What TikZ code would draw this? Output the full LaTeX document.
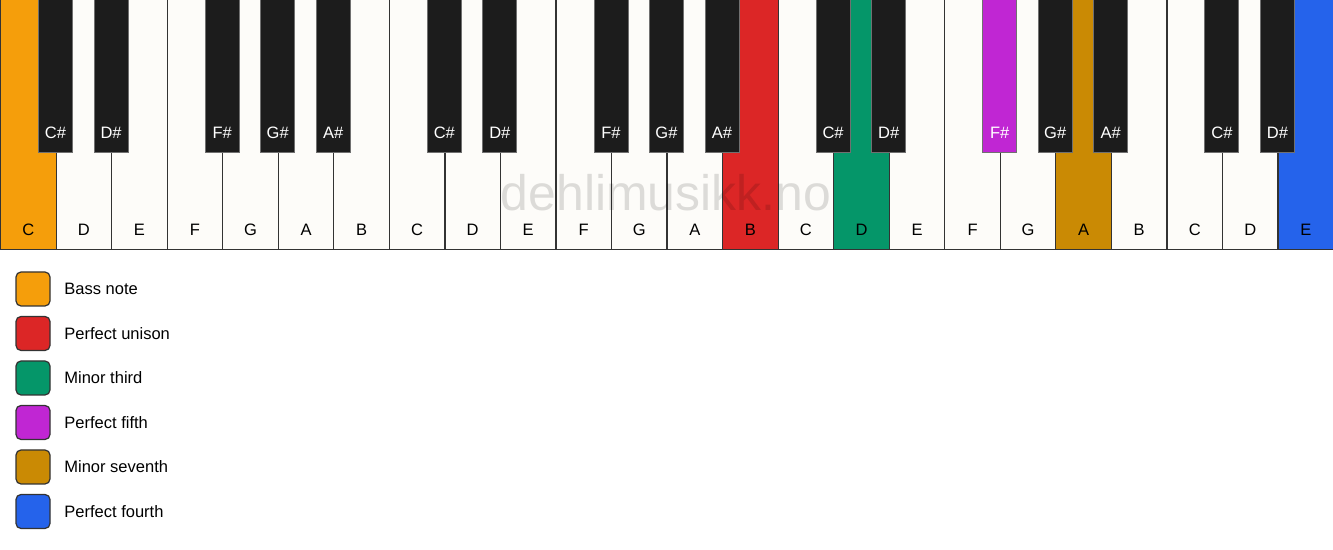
\documentclass[tikz,border=0pt]{standalone}
\usepackage{fontspec}
\setmainfont{Liberation Sans}
\usepackage{xcolor}
\definecolor{bassnote}{HTML}{F59E0B}
\definecolor{unison}{HTML}{DC2626}
\definecolor{minthird}{HTML}{059669}
\definecolor{perffifth}{HTML}{C026D3}
\definecolor{minseventh}{HTML}{CA8A04}
\definecolor{perffourth}{HTML}{2563EB}
\definecolor{ivory}{HTML}{FDFCF9}
\definecolor{ebony}{HTML}{1C1C1C}
\definecolor{keyline}{HTML}{333333}
\usetikzlibrary{calc,positioning}
\tikzset{
    every node/.style={font=\fontsize{9.4}{11}\selectfont},
    whitekey/.style={rectangle, draw=keyline, line width=0.7pt, minimum width=1.1108cm, minimum height=5cm, inner sep=0pt, anchor=south west},
    blackkey/.style={rectangle, draw=keyline!70, line width=0.5pt, minimum width=0.68cm, minimum height=3.06cm, inner sep=0pt, anchor=north},
    keyname/.style={inner sep=0pt},
    swatch/.style={rectangle, rounded corners=0.1cm, draw=keyline, line width=0.7pt, minimum size=0.68cm, inner sep=0pt},
    legendtext/.style={anchor=west, inner sep=0pt}
}

\begin{document}
\begin{tikzpicture}
    \useasboundingbox[fill=white] (0,0) rectangle (26.66,11);

    % white keys
    \foreach \name/\col [count=\i from 0] in {C/bassnote,D/ivory,E/ivory,F/ivory,G/ivory,A/ivory,B/ivory,
        C/ivory,D/ivory,E/ivory,F/ivory,G/ivory,A/ivory,B/unison,
        C/ivory,D/minthird,E/ivory,F/ivory,G/ivory,A/minseventh,B/ivory,
        C/ivory,D/ivory,E/perffourth}{
      \node[whitekey, fill=\col] (w\i) at (\i*1.1108,6) {};
      \node[keyname] (wl\i) at ($(w\i.south)+(0,0.4)$) {\name};
    }

    % black keys
    \foreach \b/\name/\col in {1/C\#/ebony,2/D\#/ebony,4/F\#/ebony,5/G\#/ebony,6/A\#/ebony,
        8/C\#/ebony,9/D\#/ebony,11/F\#/ebony,12/G\#/ebony,13/A\#/ebony,
        15/C\#/ebony,16/D\#/ebony,18/F\#/perffifth,19/G\#/ebony,20/A\#/ebony,
        22/C\#/ebony,23/D\#/ebony}{
      \node[blackkey, fill=\col] (k\b) at (w\b.north west) {};
      \node[keyname, white] (kl\b) at ($(k\b.south)+(0,0.4)$) {\name};
    }

    % watermark
    \node[text=black, text opacity=0.13, font=\fontsize{28.4}{30}\selectfont] (mark) at (13.32,7.14) {dehlimusikk.no};

    % legend
    \foreach \col/\txt [count=\j from 0] in {bassnote/Bass note,unison/Perfect unison,minthird/Minor third,
        perffifth/Perfect fifth,minseventh/Minor seventh,perffourth/Perfect fourth}{
      \node[swatch, fill=\col] (s\j) at (0.66,5.22-\j*0.89) {};
      \node[legendtext] (t\j) at ($(s\j.center)+(0.62,0)$) {\txt};
    }
\end{tikzpicture}
\end{document}
